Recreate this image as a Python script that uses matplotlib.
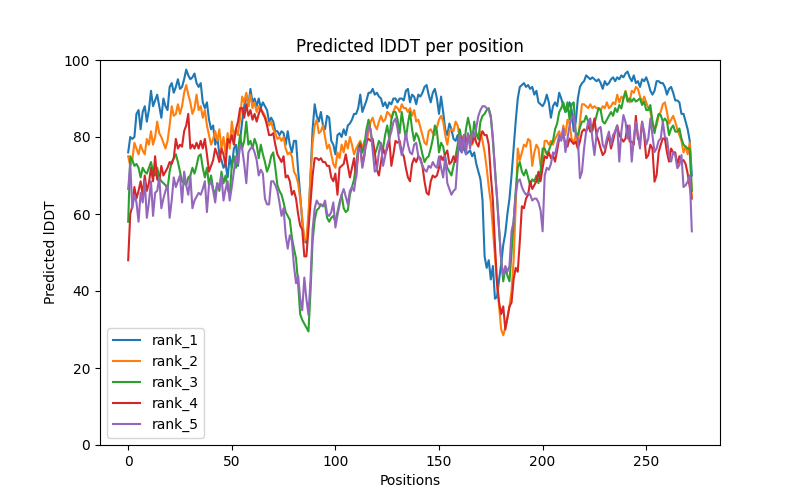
import matplotlib
matplotlib.use("Agg")
import matplotlib.pyplot as plt
import numpy as np

rank_1 = [
    76, 80, 79.5, 80, 86, 87, 82, 86.5, 88, 84,
    87, 92, 88, 89.5, 91, 88, 85, 90, 88, 87,
    93, 94, 91.5, 93, 95, 92.5, 93, 95, 97.5, 96,
    95, 95.5, 96.5, 94, 93, 94, 89, 87.5, 89, 84.5,
    82, 83, 78, 80, 75.5, 74, 72, 73, 69.5, 75,
    72, 77, 78, 72.5, 79, 84, 88, 91, 88, 92.5,
    89, 90, 88, 90, 87.5, 89, 88, 87, 84, 85,
    84, 81.5, 81.5, 80.5, 81.5, 81, 78, 81.5, 78, 76,
    79, 79, 71.5, 65, 58, 53, 52.5, 58, 70, 82,
    88.5, 85.5, 84, 86.5, 83, 82, 85.5, 85, 79, 78,
    75.5, 80.5, 81, 80, 82, 80.5, 83, 83.5, 84.5, 86,
    86, 87.5, 91, 86.5, 88, 89.5, 91.5, 91.5, 92.5, 91,
    91.5, 90.5, 90, 88, 89, 87.5, 89, 88.5, 90, 90,
    89, 90, 90, 89.5, 92, 92.5, 89, 91, 90.5, 88.5,
    91, 90.5, 91.5, 93, 93.5, 91, 89, 91.5, 92.5, 90,
    86, 90.5, 86.5, 82, 80.5, 83.5, 82, 79.5, 79, 80.5,
    77, 76, 77.5, 75.5, 76, 76.5, 75, 76, 73, 71,
    69, 63.5, 49, 46, 48, 43, 46.5, 38, 38.5, 43,
    47, 52, 55, 60, 64, 70, 77, 84, 90, 93,
    93.5, 94, 93, 93.5, 92.5, 93, 91, 92, 89, 88.5,
    88, 89, 91, 89, 85, 88, 89, 88, 91.5, 90,
    88, 86.5, 87, 89, 87, 81.5, 84, 90, 93, 94,
    94.5, 96, 95.5, 95, 95.5, 95, 94.5, 95, 94, 92.5,
    94.5, 93.5, 94, 95, 95.5, 94.5, 95.5, 95, 96, 95.5,
    96.5, 97, 95.5, 94.5, 96, 94, 94.5, 93, 95, 94.5,
    95.5, 94, 92, 91, 92, 94.5, 94.5, 94, 94, 93,
    91, 92.5, 93, 91.5, 89.5, 89.5, 89, 86, 86, 84,
    82, 79, 70,
]

rank_2 = [
    75, 72.5, 74, 78.5, 77, 75.5, 78, 76.5, 75.5, 79.5,
    78, 81.5, 78, 80, 84, 81, 80, 78.5, 77, 79,
    83, 88, 85.5, 86, 88.5, 86, 88, 91.5, 93.5, 91,
    89, 86, 87.5, 91, 87, 88, 85, 87, 83, 80.5,
    78, 79.5, 81.5, 79, 82, 77, 80, 75.5, 81, 77,
    84, 80, 82, 80.5, 85, 90.5, 89, 91.5, 88, 91,
    87.5, 89, 86.5, 88, 87, 86.5, 85.5, 84, 83, 84,
    82, 81, 79.5, 80, 79, 80, 77, 75.5, 76, 75,
    71, 70, 68, 64, 59, 53, 53.5, 60, 70, 78.5,
    83, 84.5, 81, 81.5, 83, 80, 77, 78, 75.5, 73,
    72, 76, 74.5, 78, 76, 79, 77, 80, 78, 75.5,
    77, 78, 79, 77, 79, 78, 81.5, 84, 85, 83,
    82, 84, 85.5, 84, 84.5, 86.5, 86, 85, 86.5, 88,
    87.5, 86.5, 88.5, 87.5, 87.5, 86.5, 87.5, 85.5, 87, 84,
    84.5, 82.5, 80.5, 78.5, 78, 81.5, 82, 81, 80.5, 82.5,
    84.5, 85.5, 84, 80.5, 78, 81.5, 82, 81.5, 84, 83,
    79.5, 80, 79.5, 78, 79, 80.5, 78, 79.5, 80.5, 79.5,
    81.5, 79, 76, 72, 67, 63, 56, 49, 42, 36,
    30, 28.5, 30.5, 33, 36, 40, 48, 62, 77, 74,
    76, 78, 77.5, 79.5, 79, 72.5, 76, 78, 77, 72.5,
    74, 79, 79, 78, 79, 78, 79.5, 80.5, 81.5, 79.5,
    83, 80.5, 84.5, 83.5, 79.5, 78.5, 80.5, 78, 84, 88.5,
    88.5, 88, 87.5, 88.5, 87.5, 88, 87.5, 87.5, 87, 88,
    87.5, 89, 87.5, 88, 89, 88.5, 91, 89, 90.5, 90,
    92, 90, 89, 92, 91.5, 93, 92.5, 90.5, 89, 90.5,
    89, 87.5, 86.5, 84, 82, 83, 85.5, 86.5, 88.5, 89,
    86.5, 83.5, 84.5, 85.5, 84, 82, 80.5, 79, 76, 77.5,
    75.5, 78.5, 64.5,
]

rank_3 = [
    58, 75, 74, 72.5, 73, 72, 69.5, 72, 71, 70.5,
    72, 73.5, 71, 70, 72, 69.5, 68.5, 68, 67.5, 66.5,
    71, 73.5, 74.5, 75.5, 73.5, 71, 68.5, 68, 67.5, 69.5,
    70, 72, 70.5, 72.5, 75, 75.5, 72, 69.5, 72, 67.5,
    70, 66.5, 65, 68, 66, 71, 68, 70, 66.5, 65,
    72.5, 75, 72, 76.5, 80.5, 77, 79, 84, 78, 79,
    77, 79.5, 78, 74.5, 78, 75.5, 73.5, 71, 72.5, 75,
    76, 72, 67.5, 66, 65, 63, 60.5, 59.5, 58.5, 54,
    51, 48.5, 42, 34, 32.5, 31.5, 30.5, 29.5, 40, 53,
    58.5, 61, 61.5, 62.5, 62, 62.5, 59, 58, 59, 59.5,
    58, 60.5, 63, 65, 61.5, 60.5, 61, 65, 67, 69,
    73, 77, 78.5, 76, 78, 82, 84.5, 81.5, 78, 75.5,
    77, 79, 78, 77, 80.5, 83, 79.5, 84.5, 86.5, 86.5,
    84.5, 81, 86.5, 83, 79.5, 83.5, 86.5, 82, 79, 81,
    80, 78, 75.5, 73.5, 74.5, 75, 77, 79.5, 83, 81.5,
    76, 78.5, 77.5, 74.5, 72, 71, 70, 72.5, 75, 78,
    82, 79, 77, 82, 85, 82.5, 79, 84, 81, 79.5,
    84, 85.5, 86, 87, 87.5, 85.5, 79, 72, 64, 56,
    48, 42.5, 46, 44, 42.5, 50, 58, 66, 72, 73.5,
    71, 70, 71.5, 69.5, 67.5, 69, 68.5, 70, 68, 71,
    77, 77, 75.5, 76.5, 78, 79, 82, 83.5, 86.5, 87.5,
    89, 86.5, 89, 84.5, 88.5, 89, 81, 80.5, 82.5, 84,
    84, 85.5, 84, 83, 81.5, 83.5, 85.5, 87.5, 87, 84,
    83.5, 84.5, 85.5, 86.5, 85.5, 87.5, 86.5, 88.3, 87.4, 90,
    91.7, 89.2, 90, 89.2, 90, 89.2, 89.6, 90, 88.3, 89.2,
    87, 87, 88.3, 83.9, 81, 84, 86, 85.7, 84, 84.8,
    84, 80.5, 82.2, 83, 81.4, 81.4, 82.2, 79.6, 78, 77.5,
    77, 77, 66,
]

rank_4 = [
    48, 60, 62, 67, 64, 66, 68.5, 65, 70, 66,
    68, 72, 68.5, 75, 69, 68.5, 72.5, 70, 71, 72,
    73.5, 73, 74.5, 79.5, 77, 78, 77.5, 81.5, 83, 86,
    77, 78, 77, 78.5, 77, 79, 77, 79.5, 75.5, 71,
    72.5, 74, 77, 75.5, 73.5, 77, 75.5, 72.5, 79.5, 78.5,
    80.5, 78, 82, 84, 87.5, 87.5, 85, 88.5, 85.5, 87,
    84.5, 86, 84, 86, 87.5, 86, 85, 83, 80.5, 80.5,
    81, 78, 75.5, 74.5, 73.5, 75, 69.5, 70, 68.5, 65,
    66, 64, 60, 57, 56, 49, 49, 56, 63, 70,
    74.5, 74.5, 74, 74.5, 73.5, 73.5, 72.5, 72.5, 69.5, 68.5,
    70.5, 65, 72, 72.5, 73, 75.5, 72.5, 69.5, 72, 74.5,
    69.5, 76, 78, 72.5, 75.5, 79, 79.5, 79, 79.5, 76,
    71.5, 70, 73.5, 77, 75.5, 77, 79.5, 72.5, 75.5, 79,
    78.5, 79, 76, 75, 72, 69.5, 68.5, 73, 74.5, 73.5,
    75, 74.5, 72.5, 68.5, 65.5, 65, 68.5, 70, 69.5, 70,
    72, 75, 74, 75.5, 76.5, 73, 73.5, 75, 73.5, 75.5,
    79, 77, 80.5, 78.5, 80.5, 78, 78.5, 80.5, 78.5, 77.5,
    80, 81.5, 80.5, 80.5, 78, 70, 63.5, 52, 42, 37,
    34, 36, 30, 33, 36, 37, 43, 46, 45, 53,
    62, 61.5, 64, 65, 68.5, 66.5, 67.5, 68.5, 71, 68.5,
    72, 75, 74.5, 76, 74.5, 75.3, 73.6, 76.5, 79.6, 79.6,
    80.5, 78.2, 77.5, 79.6, 78.8, 78.2, 78.8, 77, 78.8, 81.4,
    82, 81.4, 83, 81.4, 82.2, 84.8, 80.5, 79, 77, 75.3,
    76, 78.5, 80.5, 77, 79, 81.4, 83, 80.5, 79.6, 78.8,
    79.6, 83, 78.8, 78.8, 78, 85.5, 79.6, 78.8, 84, 80.5,
    74.5, 75.3, 78, 77, 68.4, 70.1, 76.1, 78, 79.6, 79.6,
    76, 73.6, 77, 76, 76, 72.7, 75, 73.6, 74, 73,
    70.5, 67, 64,
]

rank_5 = [
    66.5, 73, 61.5, 65, 63, 58, 65.5, 63, 68.5, 59,
    63, 68.5, 59.5, 65.5, 66, 69.5, 61.5, 64, 66, 67.5,
    59, 63.5, 69.5, 67, 68.5, 70, 63, 71, 67.5, 65,
    70, 61.5, 63.5, 64.5, 65.5, 65, 66.5, 68.5, 60.5, 67.5,
    68.5, 66, 63, 68, 66.5, 70, 63.5, 66.5, 68.5, 63.5,
    67, 71, 75, 73, 78, 77, 73, 68, 76, 77,
    77.5, 76, 74, 70, 71.5, 70.5, 64, 62.5, 62.5, 68.5,
    68.5, 67.5, 66, 63, 59.5, 61.5, 54.5, 51, 54.5, 53,
    46.5, 42, 44, 38, 35, 43.5, 38, 33.8, 43, 56,
    61.5, 63.5, 62.5, 62.5, 62, 63.5, 60, 59.5, 60.5, 63,
    56.5, 59.7, 62.3, 65, 66.5, 64.5, 62.5, 66, 67, 66,
    70, 77, 77, 72, 75, 80, 83, 82, 76.5, 71,
    71.5, 76, 78.5, 72.5, 75, 78, 79.6, 81.4, 83.9, 84.8,
    82.2, 78, 75.3, 77.5, 81, 78, 76, 75.5, 78, 78.5,
    75, 74, 72.5, 71.5, 71, 72.5, 72, 73.5, 72.5, 72,
    75, 72, 69.5, 75, 68, 66.5, 65, 66, 66.5, 74.5,
    80.5, 76, 80.5, 75.5, 81, 77, 81, 80, 82.5, 85.5,
    87, 88, 88, 87.5, 87, 85, 80, 71, 64.5, 56,
    48, 44, 46.5, 45, 46.5, 55.5, 58, 65, 68.5, 69,
    67, 65.8, 65, 65.5, 65, 63.5, 64, 64, 63, 61,
    55.5, 70, 72, 71.5, 73, 76, 75.5, 78, 80.5, 79,
    82.2, 76.1, 79.6, 83, 84.8, 85.7, 80.5, 79.6, 69.3, 71,
    77, 81.4, 83.9, 84.8, 79.6, 75.3, 80.5, 82.2, 82.6, 78,
    77, 79.6, 81.4, 78, 80.5, 81.4, 83, 73.6, 81.4, 85.7,
    83.9, 79.6, 83, 73.6, 79.6, 83.9, 80.5, 77, 83.9, 81.4,
    78, 79.6, 84.8, 80.5, 76.1, 77, 79, 79.6, 84, 80,
    79.6, 75.3, 73.6, 76.1, 75.3, 71.9, 72.7, 75.3, 67, 67.5,
    68.4, 70, 55.5,
]

series_names = ["rank_1", "rank_2", "rank_3", "rank_4", "rank_5"]
series_values = [rank_1, rank_2, rank_3, rank_4, rank_5]

fig, ax = plt.subplots(figsize=(8, 5), dpi=100)
for name, vals in zip(series_names, series_values):
    ax.plot(np.arange(len(vals)), vals, label=name)

ax.set_ylim(0, 100)
ax.set_title("Predicted lDDT per position")
ax.set_xlabel("Positions")
ax.set_ylabel("Predicted lDDT")
ax.legend(loc="lower left")
fig.savefig("out.png", dpi=100)
